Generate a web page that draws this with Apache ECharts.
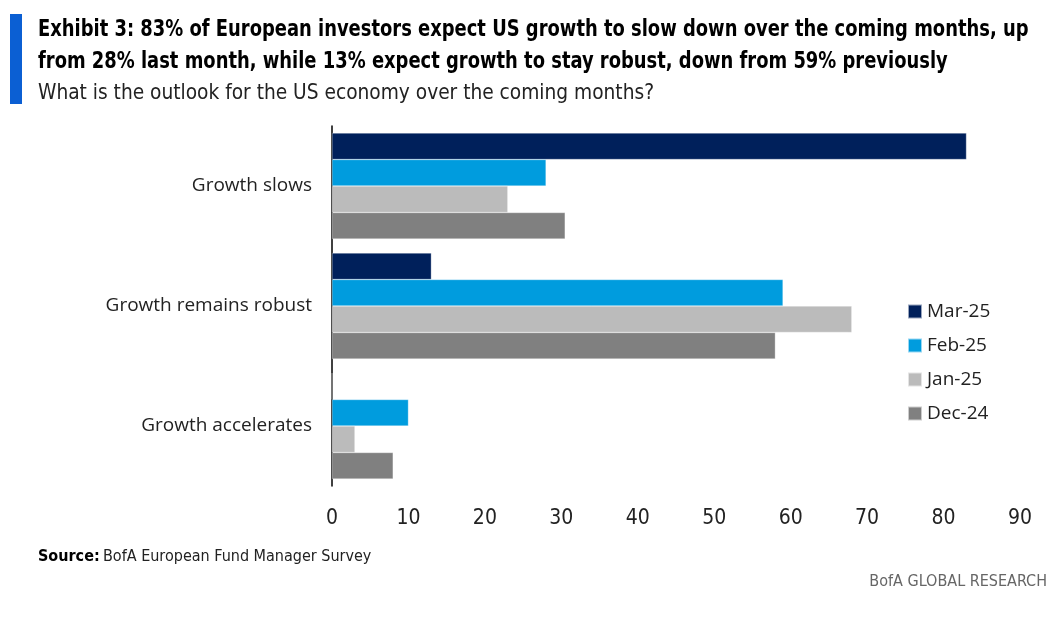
<!DOCTYPE html>
<html><head><meta charset="utf-8">
<script src="https://cdn.jsdelivr.net/npm/echarts@6/dist/echarts.min.js"></script>
<style>html,body{margin:0;padding:0;background:#fff}#c{width:1055px;height:621px}</style>
</head><body><div id="c"></div>
<script>
const categories = ["Growth slows", "Growth remains robust", "Growth accelerates"];
const seriesNames = ["Mar-25", "Feb-25", "Jan-25", "Dec-24"];
const mar25 = [83, 13, 0];
const feb25 = [28, 59, 10];
const jan25 = [23, 68, 3];
const dec24 = [30.5, 58, 8];
const xTicks = [0, 10, 20, 30, 40, 50, 60, 70, 80, 90];
const colors = ["#00205B", "#009CDE", "#BBBBBB", "#808080"];
const values = [mar25, feb25, jan25, dec24];

const F = '"Liberation Sans Narrow", "DejaVu Sans Condensed", sans-serif';
const chart = echarts.init(document.getElementById('c'), null, {renderer: 'canvas'});
chart.setOption({
  animation: false,
  backgroundColor: '#fff',
  graphic: [
    {type: 'rect', shape: {x: 10, y: 14, width: 12, height: 90}, style: {fill: '#0B5FD3'}},
    {type: 'text', x: 38, y: 19, scaleX: 0.866, style: {text: 'Exhibit 3: 83% of European investors expect US growth to slow down over the coming months, up', font: 'bold 23px ' + F, fill: '#000'}},
    {type: 'text', x: 38, y: 51, scaleX: 0.866, style: {text: 'from 28% last month, while 13% expect growth to stay robust, down from 59% previously', font: 'bold 23px ' + F, fill: '#000'}},
    {type: 'text', x: 38, y: 83, style: {text: 'What is the outlook for the US economy over the coming months?', font: '20.7px ' + F, fill: '#222'}},
    {type: 'text', left: 38, top: 549, style: {rich: {b: {font: 'bold 16px ' + F, fill: '#000'}, n: {font: '16px ' + F, fill: '#222'}}, text: '{b|Source:} {n|BofA European Fund Manager Survey}'}},
    {type: 'text', right: 8, top: 574, style: {text: 'BofA GLOBAL RESEARCH', font: '16px ' + F, fill: '#666'}}
  ],
  legend: {
    orient: 'vertical', left: 902, top: 297, itemWidth: 14, itemHeight: 14, itemGap: 15,
    icon: 'rect',
    textStyle: {fontFamily: '"Open Sans", sans-serif', fontSize: 19, color: '#222'},
    data: seriesNames
  },
  grid: {left: 332, right: 35, top: 126, bottom: 135, containLabel: false},
  xAxis: {
    type: 'value', min: 0, max: 90, interval: 10,
    axisLine: {show: false}, axisTick: {show: false}, splitLine: {show: false},
    axisLabel: {fontFamily: F, fontSize: 21, color: '#222', margin: 22,
      formatter: v => xTicks.includes(v) ? String(v) : ''}
  },
  yAxis: {
    type: 'category', data: categories, inverse: true,
    axisLine: {show: true, lineStyle: {color: '#000', width: 1.5}},
    axisTick: {show: false},
    axisLabel: {fontFamily: '"Open Sans", sans-serif', fontSize: 19, color: '#222', margin: 20}
  },
  series: seriesNames.map((n, i) => ({
    name: n, type: 'bar', data: values[i], barGap: '0%', barCategoryGap: '11.7%',
    itemStyle: {color: colors[i], borderColor: 'rgba(255,255,255,0.6)', borderWidth: 0.5}
  }))
});
</script></body></html>
